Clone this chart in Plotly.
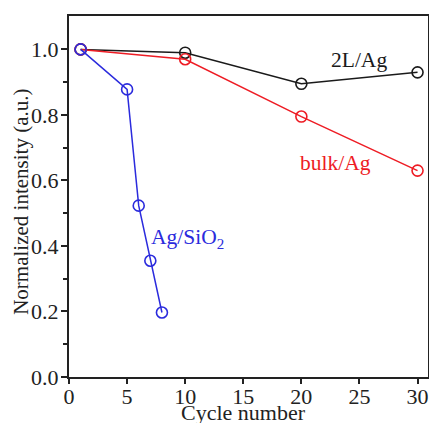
import plotly.graph_objects as go

cycles_2l = [1, 10, 20, 30]
int_2l = [1.0, 0.99, 0.895, 0.93]
cycles_bulk = [1, 10, 20, 30]
int_bulk = [1.0, 0.97, 0.795, 0.63]
cycles_sio2 = [1, 5, 6, 7, 8]
int_sio2 = [1.0, 0.878, 0.523, 0.355, 0.197]
x_ticks = [0, 5, 10, 15, 20, 25, 30]
y_ticks = [0, 0.2, 0.4, 0.6, 0.8, 1.0]
y_ticklabels = ["0.0", "0.2", "0.4", "0.6", "0.8", "1.0"]

FONT = "Liberation Serif, Times New Roman, serif"
FS = 22
FA = 21.5

fig = go.Figure()
for xs, ys, col, name in [
    (cycles_2l, int_2l, "#1a1a1a", "2L/Ag"),
    (cycles_bulk, int_bulk, "#ee1c24", "bulk/Ag"),
    (cycles_sio2, int_sio2, "#2b2bdd", "Ag/SiO2"),
]:
    fig.add_trace(go.Scatter(
        x=xs, y=ys, mode="lines+markers", name=name,
        line=dict(color=col, width=1.5),
        marker=dict(symbol="circle-open", size=11, color=col, line=dict(width=1.6, color=col)),
        showlegend=False, cliponaxis=False,
    ))

fig.add_annotation(x=25.0, y=0.968, text="2L/Ag", showarrow=False,
                   font=dict(family=FONT, size=FA, color="#1a1a1a"))
fig.add_annotation(x=22.9, y=0.653, text="bulk/Ag", showarrow=False,
                   font=dict(family=FONT, size=FA, color="#ee1c24"))
fig.add_annotation(x=10.2, y=0.424, text="Ag/SiO<sub>2</sub>", showarrow=False,
                   font=dict(family=FONT, size=FA, color="#2b2bdd"))
fig.add_annotation(xref="paper", yref="paper", x=0.485, y=-0.098, yanchor="middle",
                   text="Cycle number", showarrow=False,
                   font=dict(family=FONT, size=FS, color="#222"))
fig.add_annotation(xref="paper", yref="paper", x=-0.134, y=0.485,
                   xanchor="center", yanchor="middle", textangle=-90,
                   text="Normalized intensity (a.u.)", showarrow=False,
                   font=dict(family=FONT, size=21, color="#222"))

fig.update_layout(
    width=429, height=423,
    margin=dict(l=69, r=1, t=16, b=46),
    paper_bgcolor="white", plot_bgcolor="white",
    font=dict(family=FONT, size=FS, color="#222"),
    xaxis=dict(range=[0, 30.9], tickvals=x_ticks,
               ticks="outside", ticklen=5, tickwidth=1.5, tickcolor="#222",
               showline=True, linecolor="#222", linewidth=2, mirror=True,
               showgrid=False, zeroline=False, automargin=False,
               ticklabelstandoff=-6,
               tickfont=dict(size=FS)),
    yaxis=dict(range=[0, 1.102], tickvals=y_ticks, ticktext=y_ticklabels,
               ticks="outside", ticklen=6, tickwidth=1.5, tickcolor="#222",
               minor=dict(tickvals=[0.1, 0.3, 0.5, 0.7, 0.9], ticks="outside", ticklen=4, tickwidth=1.5, tickcolor="#222"),
               showline=True, linecolor="#222", linewidth=2, mirror=True,
               showgrid=False, zeroline=False, automargin=False,
               ticklabelstandoff=-2,
               tickfont=dict(size=FS)),
)

fig.write_html("out.html", config={"displayModeBar": False},
               post_script="document.body.style.margin='0';document.body.style.overflow='hidden';")
